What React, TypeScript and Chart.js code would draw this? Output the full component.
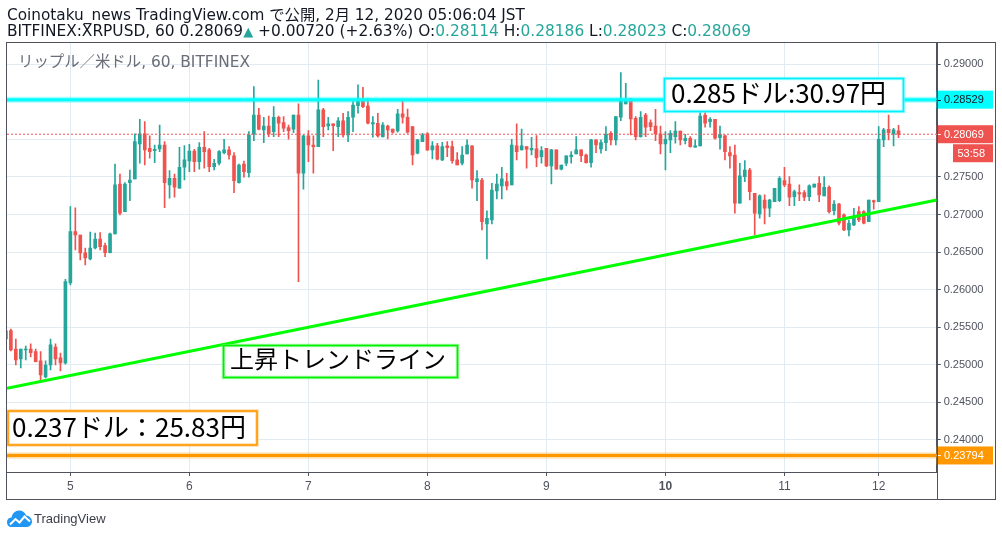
import React, { useEffect, useRef } from "react";
import { Chart, registerables } from "chart.js";

Chart.register(...registerables);

// ---------- data ----------
const dayTickIndex = [13, 37, 61, 85, 109, 133, 157, 176];
const dayTickLabels = ["5", "6", "7", "8", "9", "10", "11", "12"];
const boldDayIndex = 133;

const opens = [
  0.25344, 0.25455, 0.25211, 0.25078, 0.25198, 0.25211, 0.25175, 0.25052, 0.24839, 0.24998, 0.25238, 0.25092, 0.25025,
  0.26090, 0.26772, 0.26728, 0.26489, 0.26409, 0.26555, 0.26675, 0.26586, 0.26493, 0.26742, 0.27407, 0.27039,
  0.27425, 0.27474, 0.27940, 0.28073, 0.27882, 0.27850, 0.27873, 0.27926, 0.27394, 0.27483, 0.27350, 0.27629,
  0.27713, 0.27846, 0.27704, 0.27896, 0.27860, 0.27637, 0.27683, 0.27824, 0.27860, 0.27780, 0.27425, 0.27673,
  0.27558, 0.28073, 0.28325, 0.28126, 0.28179, 0.28103, 0.28295, 0.28223, 0.28156, 0.28135, 0.28325, 0.27550,
  0.28046, 0.27926, 0.27904, 0.28392, 0.28179, 0.28206, 0.28170, 0.28246, 0.28059, 0.28295, 0.28449, 0.28512,
  0.28445, 0.28206, 0.28215, 0.28037, 0.28179, 0.28139, 0.28112, 0.28339, 0.28295, 0.28170, 0.27816, 0.27970,
  0.28073, 0.27860, 0.27913, 0.27727, 0.27913, 0.27904, 0.27727, 0.27683, 0.27806, 0.27913, 0.27438, 0.27460,
  0.26875, 0.26928, 0.27314, 0.27381, 0.27438, 0.27394, 0.27913, 0.27860, 0.27904, 0.27860, 0.27873, 0.27771,
  0.27882, 0.27647, 0.27860, 0.27603, 0.27683, 0.27771, 0.27806, 0.27860, 0.27793, 0.27691, 0.27993, 0.27873,
  0.27957, 0.28082, 0.27993, 0.28295, 0.28472, 0.28542, 0.28281, 0.28037, 0.28325, 0.28223, 0.28179, 0.28073,
  0.27940, 0.27993, 0.28037, 0.28112, 0.27983, 0.28015, 0.27896, 0.27913, 0.28325, 0.28236, 0.28268, 0.28023,
  0.28046, 0.27824, 0.27793, 0.27150, 0.27504, 0.27593, 0.27283, 0.27008, 0.27194, 0.27084, 0.27172, 0.27185,
  0.27451, 0.27407, 0.27238, 0.27291, 0.27291, 0.27238, 0.27363, 0.27417, 0.27248, 0.27363, 0.27052, 0.27141,
  0.26995, 0.26795, 0.26862, 0.27039, 0.27039, 0.26905, 0.27185,
  0.27172, 0.27993, 0.28135, 0.28073, 0.28114,
];
const highs = [
  0.25464, 0.25477, 0.25344, 0.25211, 0.25251, 0.25278, 0.25211, 0.25175, 0.25052, 0.25344, 0.25278, 0.25158, 0.26139,
  0.27105, 0.27088, 0.26728, 0.26555, 0.26768, 0.26755, 0.26759, 0.26622, 0.26755, 0.27673, 0.27540, 0.27425,
  0.27593, 0.28073, 0.28268, 0.28236, 0.28046, 0.27926, 0.28192, 0.27970, 0.27584, 0.27540, 0.27896, 0.27917,
  0.27936, 0.27869, 0.27957, 0.28103, 0.27882, 0.27736, 0.27850, 0.28002, 0.27904, 0.27824, 0.27673, 0.27713,
  0.28103, 0.28702, 0.28415, 0.28295, 0.28312, 0.28436, 0.28312, 0.28303, 0.28192, 0.28325, 0.28472, 0.28059,
  0.28116, 0.28046, 0.28791, 0.28415, 0.28295, 0.28206, 0.28290, 0.28348, 0.28369, 0.28502, 0.28725, 0.28694,
  0.28548, 0.28303, 0.28348, 0.28223, 0.28192, 0.28139, 0.28401, 0.28512, 0.28405, 0.28170, 0.28002, 0.28082,
  0.28090, 0.27970, 0.27949, 0.27962, 0.27970, 0.27979, 0.27824, 0.27904, 0.27993, 0.27913, 0.27584, 0.27483,
  0.27048, 0.27417, 0.27540, 0.27629, 0.27550, 0.28002, 0.28206, 0.28139, 0.27904, 0.28029, 0.28050, 0.27904,
  0.27882, 0.27869, 0.27860, 0.27660, 0.27780, 0.27837, 0.28037, 0.27860, 0.27806, 0.28002, 0.27993, 0.27993,
  0.28170, 0.28103, 0.28303, 0.28888, 0.28747, 0.28542, 0.28303, 0.28369, 0.28348, 0.28259, 0.28401, 0.28179,
  0.28103, 0.28116, 0.28236, 0.28112, 0.28069, 0.28037, 0.27993, 0.28415, 0.28383, 0.28290, 0.28268, 0.28179,
  0.28059, 0.27904, 0.27926, 0.27683, 0.27717, 0.27616, 0.27283, 0.27261, 0.27261, 0.27203, 0.27350, 0.27504,
  0.27629, 0.27504, 0.27327, 0.27394, 0.27318, 0.27394, 0.27407, 0.27504, 0.27504, 0.27381, 0.27185, 0.27150,
  0.27008, 0.26928, 0.27084, 0.27105, 0.27052, 0.27194, 0.27194,
  0.28170, 0.28148, 0.28325, 0.28148, 0.28186,
];
const lows = [
  0.25331, 0.25185, 0.24998, 0.24958, 0.25065, 0.25105, 0.25038, 0.24799, 0.24825, 0.24932, 0.24998, 0.24918, 0.25008,
  0.26063, 0.26529, 0.26396, 0.26329, 0.26396, 0.26542, 0.26529, 0.26440, 0.26489, 0.26742, 0.26995, 0.27039,
  0.27185, 0.27474, 0.27683, 0.27660, 0.27749, 0.27691, 0.27837, 0.27092, 0.27217, 0.27230, 0.27350, 0.27460,
  0.27571, 0.27571, 0.27603, 0.27616, 0.27571, 0.27593, 0.27660, 0.27806, 0.27736, 0.27291, 0.27417, 0.27496,
  0.27496, 0.27983, 0.28126, 0.27957, 0.28037, 0.28037, 0.28037, 0.28103, 0.28002, 0.28090, 0.26107, 0.27337,
  0.27704, 0.27550, 0.27904, 0.28037, 0.28126, 0.27850, 0.28037, 0.28029, 0.27970, 0.28103, 0.28348, 0.28423,
  0.28206, 0.28029, 0.28029, 0.28029, 0.28006, 0.28082, 0.28095, 0.28215, 0.28082, 0.27660, 0.27806, 0.27970,
  0.27850, 0.27740, 0.27727, 0.27717, 0.27771, 0.27683, 0.27660, 0.27660, 0.27806, 0.27350, 0.27185, 0.26795,
  0.26409, 0.26875, 0.27208, 0.27208, 0.27327, 0.27394, 0.27727, 0.27860, 0.27616, 0.27793, 0.27637, 0.27683,
  0.27637, 0.27407, 0.27603, 0.27593, 0.27651, 0.27683, 0.27806, 0.27704, 0.27683, 0.27629, 0.27824, 0.27816,
  0.27850, 0.27926, 0.27926, 0.28250, 0.28472, 0.28059, 0.27993, 0.28029, 0.28037, 0.28116, 0.27983, 0.27806,
  0.27593, 0.27824, 0.27949, 0.27926, 0.27940, 0.27896, 0.27896, 0.27913, 0.28162, 0.28162, 0.28002, 0.27869,
  0.27727, 0.27616, 0.27017, 0.27150, 0.27438, 0.27194, 0.26728, 0.26951, 0.26875, 0.26972, 0.27172, 0.27172,
  0.27371, 0.27118, 0.27118, 0.27185, 0.27185, 0.27185, 0.27363, 0.27172, 0.27248, 0.27017, 0.26995, 0.26862,
  0.26786, 0.26715, 0.26852, 0.26905, 0.26875, 0.26905, 0.27070,
  0.27172, 0.27904, 0.27993, 0.27913, 0.28023,
];
const closes = [
  0.25451, 0.25198, 0.25065, 0.25211, 0.25211, 0.25162, 0.25042, 0.24865, 0.24998, 0.25265, 0.25078, 0.25025, 0.26107,
  0.26772, 0.26728, 0.26489, 0.26422, 0.26555, 0.26675, 0.26573, 0.26493, 0.26742, 0.27394, 0.27017, 0.27407,
  0.27460, 0.27970, 0.28073, 0.27860, 0.27837, 0.27869, 0.27926, 0.27425, 0.27483, 0.27363, 0.27629, 0.27727,
  0.27846, 0.27704, 0.27896, 0.27837, 0.27637, 0.27683, 0.27837, 0.27860, 0.27793, 0.27451, 0.27660, 0.27571,
  0.28059, 0.28325, 0.28135, 0.28179, 0.28073, 0.28295, 0.28215, 0.28148, 0.28116, 0.28325, 0.27550, 0.28046,
  0.27926, 0.27904, 0.28392, 0.28170, 0.28206, 0.28183, 0.28246, 0.28059, 0.28295, 0.28458, 0.28512, 0.28436,
  0.28215, 0.28223, 0.28046, 0.28192, 0.28126, 0.28095, 0.28339, 0.28295, 0.28095, 0.27793, 0.27993, 0.28059,
  0.27860, 0.27913, 0.27736, 0.27904, 0.27890, 0.27717, 0.27660, 0.27793, 0.27926, 0.27460, 0.27474, 0.26905,
  0.26951, 0.27327, 0.27407, 0.27474, 0.27381, 0.27926, 0.27837, 0.27913, 0.27869, 0.27882, 0.27757, 0.27850,
  0.27647, 0.27860, 0.27603, 0.27660, 0.27780, 0.27793, 0.27860, 0.27784, 0.27691, 0.27993, 0.27926, 0.27957,
  0.28069, 0.27993, 0.28303, 0.28525, 0.28534, 0.28272, 0.28037, 0.28295, 0.28162, 0.28170, 0.28073, 0.27940,
  0.28002, 0.28082, 0.28112, 0.27993, 0.28015, 0.27904, 0.27913, 0.28312, 0.28215, 0.28268, 0.28015, 0.28069,
  0.27837, 0.27780, 0.27150, 0.27514, 0.27593, 0.27305, 0.27017, 0.27248, 0.27084, 0.27194, 0.27350, 0.27483,
  0.27394, 0.27230, 0.27305, 0.27274, 0.27230, 0.27381, 0.27407, 0.27261, 0.27363, 0.27039, 0.27141, 0.26884,
  0.26795, 0.26884, 0.26981, 0.26928, 0.26884, 0.27194, 0.27168,
  0.28002, 0.28126, 0.28090, 0.28126, 0.28069,
];

const priceTicks = [0.24, 0.245, 0.25, 0.255, 0.26, 0.265, 0.27, 0.275, 0.28, 0.285, 0.29];
const hiddenPriceTicks = [0.285, 0.28];
const resistancePrice = 0.28529;
const supportPrice = 0.23794;
const lastPrice = 0.28069;
const countdownText = "53:58";
const trendX = [0.22, 187.7];
const trendY = [0.24688, 0.27194];

// ---------- view settings ----------
const X_MIN = 0.22;
const X_MAX = 187.7;
const Y_MIN = 0.23574;
const Y_MAX = 0.29283;
const UP = "#26a69a";
const DOWN = "#ef5350";
const AXIS = "#50535e";
const GRID = "#e1ecf2";
const FONT = '"Liberation Sans", "Noto Sans CJK JP", sans-serif';
const HEAD = '"DejaVu Sans", "Noto Sans CJK JP", sans-serif';
const CJK = '"Noto Sans CJK JP", "Liberation Sans", sans-serif';

const annotations = [
  { text: "0.285ドル:30.97円", x: 132.6, y: 0.28824, w: 241, h: 35, tx: 7.5, ty: 25.2, size: 26, color: "#00f0ff", halo: "rgba(0,240,255,0.35)" },
  { text: "上昇トレンドライン", x: 43.68, y: 0.25271, w: 236, h: 34, tx: 7.5, ty: 23.5, size: 24, color: "#00f000", halo: "rgba(0,240,0,0.35)" },
  { text: "0.237ドル：25.83円", x: 0.22, y: 0.24399, w: 251, h: 36, tx: 5, ty: 27.3, size: 26, color: "#ff9800", halo: "rgba(255,152,0,0.35)" },
];

const priceLabels = [
  { price: resistancePrice, bg: "#00ffff", fg: "#131722" },
  { price: lastPrice, bg: DOWN, fg: "#ffffff" },
  { price: supportPrice, bg: "#ff9800", fg: "#ffffff" },
];

function hline(p: number) {
  return [
    { x: X_MIN, y: p },
    { x: X_MAX, y: p },
  ];
}

const overlayPlugin = {
  id: "overlay",
  afterDatasetsDraw(chart: any) {
    const { ctx, scales } = chart;
    ctx.save();
    for (const a of annotations) {
      const left = scales.x.getPixelForValue(a.x);
      const top = scales.y.getPixelForValue(a.y);
      ctx.fillStyle = "#ffffff";
      ctx.fillRect(left, top, a.w, a.h);
      ctx.strokeStyle = a.halo;
      ctx.lineWidth = 3.5;
      ctx.strokeRect(left + 1, top + 1, a.w - 2, a.h - 2);
      ctx.strokeStyle = a.color;
      ctx.lineWidth = 1.6;
      ctx.strokeRect(left + 1, top + 1, a.w - 2, a.h - 2);
      ctx.fillStyle = "#000000";
      ctx.font = `${a.size}px ${CJK}`;
      ctx.textBaseline = "alphabetic";
      ctx.textAlign = "left";
      ctx.fillText(a.text, left + a.tx, top + a.ty);
    }
    ctx.restore();
  },
  afterDraw(chart: any) {
    const { ctx, scales, chartArea } = chart;
    ctx.save();
    const boxL = chartArea.right;
    const boxR = 993;
    ctx.font = `11px ${FONT}`;
    ctx.textBaseline = "middle";
    ctx.textAlign = "left";
    let lastBottom = 0;
    for (const pl of priceLabels) {
      const yc = scales.y.getPixelForValue(pl.price);
      ctx.fillStyle = pl.bg;
      ctx.fillRect(boxL, yc - 9, boxR - boxL, 18);
      ctx.strokeStyle = pl.fg;
      ctx.lineWidth = 1;
      ctx.beginPath();
      ctx.moveTo(boxL, Math.round(yc) + 0.5);
      ctx.lineTo(boxL + 4, Math.round(yc) + 0.5);
      ctx.stroke();
      ctx.fillStyle = pl.fg;
      ctx.fillText(pl.price.toFixed(5), boxL + 7.3, yc + 0.5);
      if (pl.price === lastPrice) lastBottom = yc + 9;
    }
    // countdown under the last price
    ctx.fillStyle = DOWN;
    ctx.fillRect(953, lastBottom + 1, boxR - 953, 18);
    ctx.fillStyle = "#ffffff";
    ctx.fillText(countdownText, 957.5, lastBottom + 10.5);
    // frame
    ctx.strokeStyle = AXIS;
    ctx.lineWidth = 1;
    ctx.strokeRect(6.5, 42.5, 989, 457);
    ctx.beginPath();
    ctx.moveTo(Math.round(chartArea.right) + 0.5, 42.5);
    ctx.lineTo(Math.round(chartArea.right) + 0.5, 499.5);
    ctx.stroke();
    ctx.restore();
  },
};

export default function App() {
  const canvasRef = useRef<HTMLCanvasElement | null>(null);

  useEffect(() => {
    if (!canvasRef.current) return;
    const colors = closes.map((c, i) => (c >= opens[i] ? UP : DOWN));
    const bodies = opens.map((o, i) => ({ x: i, y: [o, closes[i]] }));
    const wicks = lows.map((l, i) => ({ x: i, y: [l, highs[i]] }));

    const chart = new Chart(canvasRef.current, {
      type: "bar",
      data: {
        datasets: [
          {
            type: "line",
            data: [
              { x: trendX[0], y: trendY[0] },
              { x: trendX[1], y: trendY[1] },
            ],
            borderColor: "#00ff00",
            borderWidth: 3.2,
            pointRadius: 0,
            order: 0,
          } as any,
          { type: "line", data: hline(resistancePrice), borderColor: "#00ffff", borderWidth: 3, pointRadius: 0, order: 1 } as any,
          { type: "line", data: hline(resistancePrice), borderColor: "rgba(0,255,255,0.35)", borderWidth: 6, pointRadius: 0, order: 2 } as any,
          { type: "line", data: hline(supportPrice), borderColor: "#ff9800", borderWidth: 3, pointRadius: 0, order: 1 } as any,
          { type: "line", data: hline(supportPrice), borderColor: "rgba(255,152,0,0.35)", borderWidth: 6, pointRadius: 0, order: 2 } as any,
          {
            type: "line",
            data: hline(lastPrice),
            borderColor: DOWN,
            borderWidth: 1,
            borderDash: [2, 2],
            pointRadius: 0,
            order: 3,
          } as any,
          {
            type: "bar",
            data: bodies,
            backgroundColor: colors,
            barThickness: 3,
            minBarLength: 1,
            grouped: false,
            borderWidth: 0,
            order: 4,
          } as any,
          {
            type: "bar",
            data: wicks,
            backgroundColor: colors,
            barThickness: 1,
            grouped: false,
            borderWidth: 0,
            order: 5,
          } as any,
        ],
      },
      options: {
        animation: false,
        responsive: false,
        maintainAspectRatio: false,
        events: [],
        layout: { padding: { left: 7, top: 43, right: 6, bottom: 37 } },
        plugins: { legend: { display: false }, tooltip: { enabled: false } },
        scales: {
          x: {
            type: "linear",
            min: X_MIN,
            max: X_MAX,
            offset: false,
            afterBuildTicks: (s: any) => {
              s.ticks = dayTickIndex.map((v) => ({ value: v }));
            },
            afterFit: (s: any) => {
              s.height = 28;
            },
            ticks: {
              autoSkip: false,
              maxRotation: 0,
              padding: 3,
              color: AXIS,
              font: (c: any) => ({
                family: FONT,
                size: 12,
                weight: c.tick && c.tick.value === boldDayIndex ? "bold" : "normal",
              }),
              callback: (v: any) => {
                const k = dayTickIndex.indexOf(Number(v));
                return k >= 0 ? dayTickLabels[k] : "";
              },
            },
            grid: { color: GRID, tickColor: AXIS, tickLength: 4, lineWidth: 1, offset: false },
            border: { display: true, color: AXIS, width: 1 },
          } as any,
          y: {
            type: "linear",
            position: "right",
            min: Y_MIN,
            max: Y_MAX,
            afterBuildTicks: (s: any) => {
              s.ticks = priceTicks.map((v) => ({ value: v }));
            },
            afterFit: (s: any) => {
              s.width = 59.3;
            },
            ticks: {
              padding: 3,
              color: AXIS,
              font: { family: FONT, size: 11 },
              callback: (v: any) => {
                const n = Number(v);
                if (hiddenPriceTicks.some((h) => Math.abs(h - n) < 1e-9)) return "";
                return n.toFixed(5);
              },
            },
            grid: { color: GRID, tickColor: AXIS, tickLength: 4, lineWidth: 1, offset: false },
            border: { display: true, color: AXIS, width: 1 },
          } as any,
        },
      },
      plugins: [overlayPlugin],
    });
    return () => chart.destroy();
  }, []);

  const teal = { color: UP };
  return (
    <div
      style={{
        position: "absolute",
        left: 0,
        top: 0,
        width: 1002,
        height: 537,
        background: "#ffffff",
        overflow: "hidden",
      }}
    >
      <canvas ref={canvasRef} width={1002} height={537} style={{ position: "absolute", left: 0, top: 0, width: 1002, height: 537 }} />
      <div
        style={{
          position: "absolute",
          left: 7,
          top: 7.8,
          font: `15.3px ${HEAD}`,
          lineHeight: 1,
          color: "#131722",
          whiteSpace: "nowrap",
        }}
      >
        Coinotaku_news TradingView.com で公開, 2月 12, 2020 05:06:04 JST
      </div>
      <div
        style={{
          position: "absolute",
          left: 7,
          top: 24.3,
          font: `15.4px ${HEAD}`,
          lineHeight: 1,
          color: "#131722",
          whiteSpace: "nowrap",
        }}
      >
        BITFINEX:XRPUSD, 60 0.28069<span style={{ ...teal, fontSize: 13 }}>▲</span> +0.00720 (+2.63%) O:
        <span style={teal}>0.28114</span> H:<span style={teal}>0.28186</span> L:<span style={teal}>0.28023</span> C:
        <span style={teal}>0.28069</span>
      </div>
      <div
        style={{
          position: "absolute",
          left: 18,
          top: 55,
          font: `15.4px ${HEAD}`,
          lineHeight: 1,
          color: "#6a6d78",
          whiteSpace: "nowrap",
        }}
      >
        リップル／米ドル, 60, BITFINEX
      </div>
      <svg style={{ position: "absolute", left: 7, top: 509 }} width="25" height="18" viewBox="0 0 25 18">
        <path
          d="M4.5 18 C1.8 18 0 16 0 13.2 C0 10.6 2 8.6 4.6 8.6 C5.2 4.4 8.2 1.5 12.2 1.5 C15.6 1.5 18.2 3.6 19.1 6.6 C22.4 6.8 25 9.4 25 12.6 C25 15.6 22.8 18 19.8 18 Z"
          fill="#2196f3"
        />
        <polyline points="3,15.5 8.5,10 12.5,13.5 17.5,7.5 23,12.5" stroke="#ffffff" strokeWidth="2" fill="none" />
      </svg>
      <div
        style={{
          position: "absolute",
          left: 34,
          top: 512,
          font: `13px ${FONT}`,
          lineHeight: 1,
          color: "#3b3e48",
          whiteSpace: "nowrap",
        }}
      >
        TradingView
      </div>
    </div>
  );
}
